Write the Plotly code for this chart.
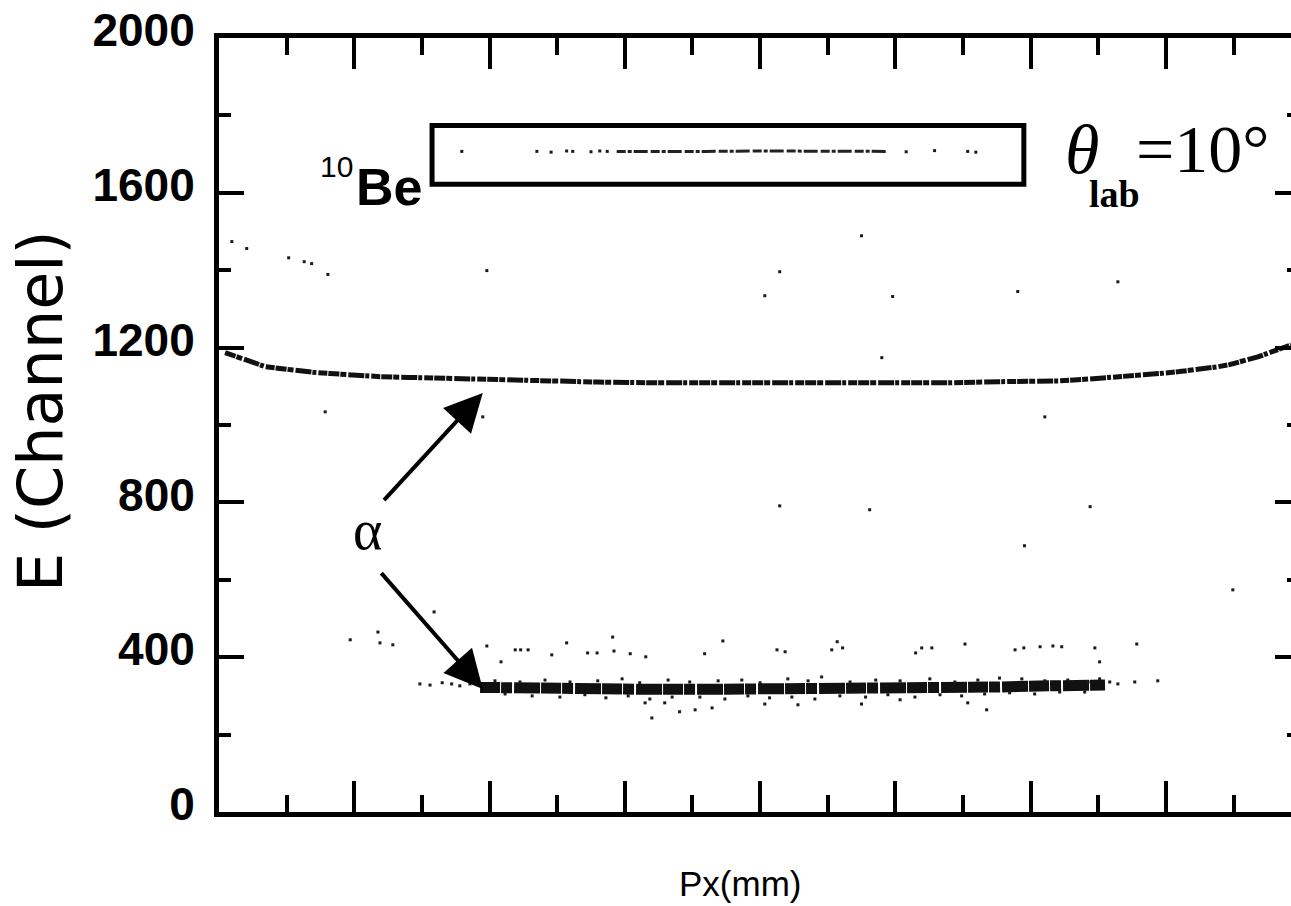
import plotly.graph_objects as go

# ---------------- data ----------------
# upper alpha band (ridge of the dense locus)
upper_x = [0.9, 2.5, 4.3, 6.8, 9.0, 11.7, 14.0, 16.4, 20.0, 23.8, 28.0, 34.1, 41.0, 48.9, 56.0,
           63.7, 71.0, 78.5, 86.0, 93.3, 100.5, 108.1, 115.4, 120.0, 124.3, 128.0, 131.7, 135.5,
           139.1, 142.0, 145.0, 147.5, 149.4, 151.5, 153.6, 155.5, 157.6, 158.5]
upper_y = [1187, 1177, 1164, 1151, 1146, 1140, 1136, 1133, 1128, 1125, 1123, 1120, 1117, 1114, 1111,
           1109, 1109, 1108, 1109, 1109, 1108, 1109, 1112, 1113, 1114, 1118, 1122, 1127,
           1133, 1138, 1143, 1150, 1156, 1165, 1176, 1188, 1202, 1207]

# lower alpha band (ridge of the dense locus)
lower_x = [38.6, 44.0, 48.9, 56.0, 63.7, 71.0, 78.5, 86.0, 93.3, 100.0, 108.1, 115.0, 122.8, 131.0]
lower_y = [322, 320, 318, 318, 317, 317, 317, 318, 318, 319, 321, 323, 326, 328]

# fringe events of the lower band
fringe_hi_x = [40.8, 44.5, 48.2, 51.9, 56.0, 59.6, 62.2, 66.4, 69.6, 73.8, 77.3, 80.0, 84.1, 87.1,
               89.1, 93.3, 97.1, 100.7, 105.1, 108.8, 112.2, 115.4, 118.7, 122.1, 125.5, 128.5, 130.2]
fringe_hi_y = [339, 336, 341, 336, 339, 344, 334, 341, 336, 339, 341, 334, 344, 339,
               349, 336, 341, 339, 344, 336, 341, 346, 344, 339, 341, 336, 344]
fringe_lo_x = [42.3, 46.3, 50.4, 54.1, 57.2, 60.5, 63.7, 67.0, 71.1, 74.8, 78.2, 81.4, 84.7, 88.1,
               91.8, 95.6, 98.9, 102.9, 106.6, 109.8, 113.2, 116.9, 120.6, 124.3, 128.0]
fringe_lo_y = [305, 300, 297, 303, 295, 300, 292, 297, 297, 292, 300, 295, 297, 292,
               300, 297, 303, 297, 303, 300, 305, 308, 305, 310, 310]

# sparse heads / tails of the lower band
lower_sparse_x = [29.7, 31.2, 33.0, 34.4, 35.6, 37.1, 38.1, 131.7, 132.9, 135.4, 138.8]
lower_sparse_y = [331, 328, 334, 331, 326, 331, 334, 336, 331, 336, 339]

# 10Be locus inside the box
be_x = [58.8, 66.0, 72.0, 80.0, 88.0, 94.0, 99.0]
be_y = [1707, 1706, 1707, 1708, 1707, 1706, 1707]
be_dots_x = [35.9, 47.0, 49.1, 51.4, 52.3, 55.0, 56.3, 57.4, 101.6, 105.8, 110.7, 111.9]
be_dots_y = [1707, 1707, 1705, 1708, 1707, 1706, 1708, 1707, 1706, 1709, 1707, 1705]

# isolated events
stray_x = [1.9, 4.1, 10.3, 12.6, 13.7, 16.1, 39.6, 82.9, 95.0, 99.6, 80.7, 118.1, 132.9, 98.0,
           122.1, 15.7, 39.0, 82.9, 96.2, 128.8, 119.1, 149.9,
           19.4, 23.5, 23.8, 25.7, 31.8, 39.6, 41.7, 43.8, 44.6, 45.7, 49.2, 51.4, 54.5, 55.9,
           58.2, 58.4, 60.8, 63.1, 71.8, 74.5, 82.5, 83.7, 90.6, 91.4, 92.2, 103.0, 103.9, 105.4,
           110.3, 117.7, 119.0, 121.4, 123.3, 124.6, 129.5, 130.2, 135.7,
           63.0, 65.9, 64.0, 68.1, 70.4, 72.9, 80.7, 85.6, 95.0, 100.7, 110.7, 113.5]
stray_y = [1474, 1456, 1432, 1422, 1417, 1389, 1399, 1396, 1489, 1332, 1334, 1345, 1370, 1174,
           1021, 1034, 1021, 791, 781, 789, 688, 574,
           445, 465, 437, 432, 517, 429, 388, 419, 419, 419, 406, 437, 411, 411,
           452, 416, 409, 401, 409, 442, 419, 414, 419, 440, 424, 411, 424, 424,
           434, 419, 424, 427, 429, 427, 424, 388, 434,
           282, 282, 243, 259, 264, 269, 279, 277, 279, 290, 282, 264]

# axis settings
x_range = [0, 158.5]
y_range = [0, 2000]
y_ticks = [0, 400, 800, 1200, 1600, 2000]

# ---------------- figure ----------------
DOT = dict(color="#1a1a1a", size=3, symbol="square")
fig = go.Figure()

fig.add_trace(go.Scatter(x=upper_x, y=upper_y, mode="lines",
                         line=dict(color="#111", width=5,
                                   dash="11px,1px,6px,2px,16px,1px,4px,2px,9px,1px"),
                         hoverinfo="skip", showlegend=False))
fig.add_trace(go.Scatter(x=lower_x, y=lower_y, mode="lines",
                         line=dict(color="#111", width=11, dash="20px,1px,11px,2px,26px,1px"),
                         hoverinfo="skip", showlegend=False))
fig.add_trace(go.Scatter(x=be_x, y=be_y, mode="lines",
                         line=dict(color="#222", width=3, dash="9px,2px,4px,2px,14px,3px"),
                         hoverinfo="skip", showlegend=False))
for xs, ys in [(fringe_hi_x, fringe_hi_y), (fringe_lo_x, fringe_lo_y),
               (lower_sparse_x, lower_sparse_y), (be_dots_x, be_dots_y), (stray_x, stray_y)]:
    fig.add_trace(go.Scatter(x=xs, y=ys, mode="markers", marker=DOT,
                             hoverinfo="skip", showlegend=False))
# dummy trace for the right-hand tick axis
fig.add_trace(go.Scatter(x=[], y=[], yaxis="y2", showlegend=False))

SANS = "Liberation Sans, Arial, sans-serif"
SERIF = "Liberation Serif, Times New Roman, serif"

fig.update_layout(
    width=1291, height=906,
    margin=dict(l=219, r=0, t=38, b=94),
    paper_bgcolor="white", plot_bgcolor="white",
    xaxis=dict(range=x_range, dtick=20, tick0=0, showticklabels=False,
               ticks="inside", ticklen=31, tickwidth=4, tickcolor="black",
               minor=dict(ticks="inside", ticklen=17, tickwidth=4, dtick=10, tickcolor="black"),
               showline=True, linewidth=5, linecolor="black", mirror="ticks",
               showgrid=False, zeroline=False),
    yaxis=dict(range=y_range, tickvals=y_ticks, ticks="inside", ticklen=25, tickwidth=4,
               tickcolor="black",
               minor=dict(ticks="inside", ticklen=12, tickwidth=4, dtick=200, tickcolor="black"),
               showline=True, linewidth=5, linecolor="black", mirror=False,
               showgrid=False, zeroline=False,
               tickfont=dict(family=SANS, size=46, color="black", weight="bold"),
               ticklabelstandoff=10, ticklabelshift=-8),
    yaxis2=dict(range=y_range, overlaying="y", side="right", anchor="x",
                tickvals=y_ticks, ticks="inside", ticklen=16, tickwidth=4, tickcolor="black",
                minor=dict(ticks="inside", ticklen=4, tickwidth=4, dtick=200, tickcolor="black"),
                showticklabels=False, showline=False, showgrid=False, zeroline=False),
)

# box around the 10Be locus
fig.add_shape(type="rect", x0=31.5, x1=119.0, y0=1622, y1=1774, xref="x", yref="y",
              line=dict(color="black", width=5), fillcolor="rgba(0,0,0,0)", layer="below")

# arrows pointing at the alpha loci
for hx, hy, tx, ty in [(39.0, 1083, 24.2, 802), (39.0, 318, 23.8, 621)]:
    fig.add_annotation(x=hx, y=hy, ax=tx, ay=ty, xref="x", yref="y", axref="x", ayref="y",
                       text="", showarrow=True, arrowhead=2, arrowsize=1.9, arrowwidth=4,
                       arrowcolor="black", standoff=0, startstandoff=0)

fig.add_annotation(x=21.9, y=729, xref="x", yref="y", text="α", showarrow=False,
                   font=dict(family=SERIF, size=56, color="black"))
fig.add_annotation(x=17.3, y=1668, xref="x", yref="y", text="10", showarrow=False,
                   font=dict(family=SANS, size=30, color="black"))
fig.add_annotation(x=25.2, y=1614, xref="x", yref="y", text="Be", showarrow=False,
                   font=dict(family=SANS, size=52, color="black", weight="bold"))
fig.add_annotation(x=127.6, y=1712, xref="x", yref="y", text="<i>θ</i>", showarrow=False,
                   font=dict(family=SERIF, size=70, color="black"))
fig.add_annotation(x=132.4, y=1598, xref="x", yref="y", text="<b>lab</b>", showarrow=False,
                   font=dict(family=SERIF, size=38, color="black"))
fig.add_annotation(x=145.5, y=1712, xref="x", yref="y", text="=10°", showarrow=False,
                   font=dict(family=SERIF, size=68, color="black"))

fig.add_annotation(x=-0.167, y=0.518, xref="paper", yref="paper", text="E (Channel)",
                   textangle=-90, showarrow=False, xanchor="center", yanchor="middle",
                   font=dict(family="DejaVu Sans, sans-serif", size=62, color="black"))
fig.add_annotation(x=0.486, y=-0.092, xref="paper", yref="paper", text="Px(mm)",
                   showarrow=False, xanchor="center", yanchor="middle",
                   font=dict(family=SANS, size=35, color="black"))

fig.write_html("out.html")
